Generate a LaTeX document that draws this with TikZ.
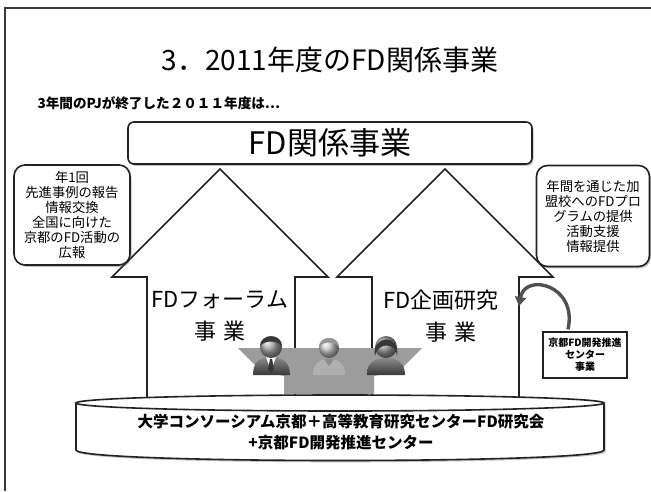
\documentclass[tikz,border=0pt]{standalone}
\usepackage{fontspec}
\setmainfont{Noto Sans CJK JP}
\usetikzlibrary{arrows.meta,shadows,calc}
\definecolor{ink}{HTML}{222222}
\definecolor{frameink}{HTML}{3A3A3A}
\definecolor{tablegray}{HTML}{9C9C9C}
\definecolor{suitdark}{HTML}{383838}
\definecolor{suitmid}{HTML}{8A8A8A}
\definecolor{palegray}{HTML}{C8C8C8}
\definecolor{curlink}{HTML}{505050}
\begin{document}
\begin{tikzpicture}[x=1pt,y=-1pt,
  outline/.style={draw=ink,line width=1.6pt,line join=miter},
  softshadow/.style={drop shadow={shadow xshift=1.5pt,shadow yshift=-1.8pt,opacity=0.35,fill=black!70}},
  callout/.style={outline,fill=white,rounded corners=11pt,softshadow,align=center,
    inner sep=0pt,font=\fontsize{13.3}{15}\selectfont},
  headbox/.style={outline,fill=white,rounded corners=6pt,softshadow,inner sep=0pt,
    font=\fontsize{31}{34}\selectfont},
  arrowlabel/.style={font=\fontsize{22}{32}\selectfont,align=center},
  hubstyle/.style={draw=ink,line width=1.3pt,fill=white,align=center,inner sep=0pt,
    font=\bfseries\fontsize{10}{12}\selectfont},
  linkarrow/.style={draw=curlink,line width=3.4pt,-{Triangle[length=9pt,width=11pt]}},
]
\useasboundingbox (0,0) rectangle (651,491);

% slide frame (top and left edges)
\draw[frameink,line width=2pt] (5,491) -- (5,8) -- (651,8);

% headings
\node[font=\fontsize{28}{32}\selectfont] (title) at (330,60) {3．2011年度のFD関係事業};
\node[anchor=west,font=\bfseries\fontsize{13.6}{16}\selectfont] (lead) at (34,103)
  {3年間のPJが終了した２０１１年度は…};

% two block arrows pointing up to the common box
\draw[outline,fill=white] (220,169) -- (328,277) -- (295,277) -- (295,400)
  -- (147,400) -- (147,277) -- (112,277) -- cycle;
\draw[outline,fill=white] (445,169) -- (553,277) -- (519,277) -- (519,400)
  -- (372,400) -- (372,277) -- (337,277) -- cycle;

\node[headbox,minimum width=404pt,minimum height=42pt] (fdbox) at (330,143) {FD関係事業};

% side notes
\node[callout,minimum width=116pt,minimum height=100pt] (forumnote) at (72,215)
  {年1回\\先進事例の報告\\情報交換\\全国に向けた\\京都のFD活動の\\広報};
\node[callout,minimum width=113pt,minimum height=101pt] (plannote) at (593,216)
  {年間を通じた加\\盟校へのFDプロ\\グラムの提供\\活動支援\\情報提供};

% arrow labels
\node[arrowlabel] (forumlabel) at (220,316) {FDフォーラム\\事\hspace{0.3em}業};
\node[arrowlabel] (planlabel) at (441,300) {FD企画研究};
\node[arrowlabel] (planlabel2) at (451,332) {事\hspace{0.3em}業};

% meeting table with three people
\fill[tablegray] (238,348) -- (422,348) -- (400,370) -- (374,376) -- (374,394)
  -- (284,394) -- (284,376) -- (260,370) -- cycle;
% left person
\shade[top color=suitmid,bottom color=suitdark] (253,375) .. controls (253,361) and (261,357) .. (271,357)
  .. controls (281,357) and (290,361) .. (290,375) -- cycle;
\fill[white] (266,357) -- (276,357) -- (271,371) -- cycle;
\fill[suitdark] (270,359) -- (272,359) -- (274,369) -- (271,373) -- (268,369) -- cycle;
\shade[ball color=gray!70] (271,347) circle[radius=11pt];
\fill[suitdark] (260,346) .. controls (260,333) and (282,333) .. (282,346)
  .. controls (277,340) and (265,340) .. cycle;
% middle person
\fill[palegray!88!black] (313,375) .. controls (313,363) and (320,359) .. (329,359)
  .. controls (338,359) and (345,363) .. (345,375) -- cycle;
\fill[palegray!70!black] (324,359) -- (334,359) -- (329,366) -- cycle;
\shade[ball color=palegray] (329,348) circle[radius=10pt];
\fill[palegray!75!black] (319,347) .. controls (319,335) and (339,335) .. (339,347)
  .. controls (335,341) and (323,341) .. cycle;
% right person
\shade[top color=suitmid,bottom color=suitdark] (367,375) .. controls (367,362) and (375,358) .. (386,358)
  .. controls (397,358) and (405,362) .. (405,375) -- cycle;
\shade[ball color=gray!75] (386,347) circle[radius=11pt];
\fill[suitdark] (375,356) .. controls (371,335) and (401,333) .. (397,356)
  .. controls (397,343) and (378,341) .. cycle;

% common base cylinder
\path[fill=white,softshadow] (76,403) -- (76,450) .. controls (76,464) and (604,464) .. (604,450)
  -- (604,403) -- cycle;
\draw[outline,fill=white] (76,403) -- (76,450) .. controls (76,464) and (604,464) .. (604,450)
  -- (604,403);
\draw[outline,fill=white] (340,403) ellipse [x radius=264pt,y radius=8pt];
\node[font=\bfseries\fontsize{15.5}{21}\selectfont,align=center] (base) at (341,432)
  {大学コンソーシアム京都＋高等教育研究センターFD研究会\\+京都FD開発推進センター};

% centre box and its link into the planning arrow
\node[hubstyle,minimum width=84pt,minimum height=46pt] (hubbox) at (585,355)
  {京都FD開発推進\\センター\\事業};
\coordinate (shaftpt) at (519,306);
\draw[linkarrow] ($(hubbox.north)+(-17,-2)$) .. controls (578,285) and (525,272) .. (shaftpt);
\end{tikzpicture}
\end{document}
